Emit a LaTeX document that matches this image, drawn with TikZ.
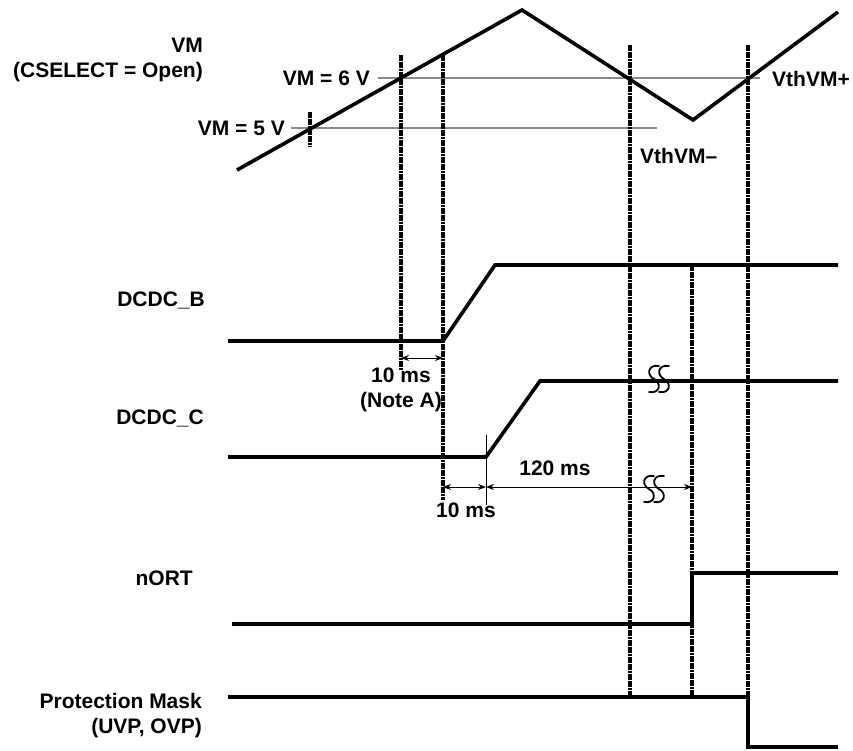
\documentclass[tikz,border=0pt]{standalone}
\usepackage{fontspec}
\setmainfont{Liberation Sans}
\usetikzlibrary{arrows.meta}

\definecolor{lvlgray}{HTML}{8A8A8A}

\begin{document}
\begin{tikzpicture}[x=1pt,y=-1pt,
  sig/.style={line width=3.6pt,line join=miter},
  lvl/.style={line width=1.4pt,lvlgray},
  evt/.style={line width=3.2pt,dash pattern=on 2.8pt off 0.6pt},
  dim/.style={line width=0.9pt,{Stealth[length=8pt,width=6pt]}-{Stealth[length=8pt,width=6pt]}},
  brk/.style={line width=1.8pt,line cap=round},
  lab/.style={font=\fontsize{21}{25}\selectfont\bfseries,inner sep=0pt}]
\useasboundingbox (0,0) rectangle (853,750);

% signal names
\node[lab,anchor=east,align=right] (vmname) at (203,60) {VM\\(CSELECT = Open)};
\node[lab,anchor=east] (bname) at (205,300) {DCDC\_B};
\node[lab,anchor=east] (cname) at (204,418) {DCDC\_C};
\node[lab,anchor=east] (rname) at (193,578) {nORT};
\node[lab,anchor=east,align=right] (pname) at (202,716) {Protection Mask\\(UVP, OVP)};

% VM ramp and thresholds
\node[lab,anchor=east] (six) at (370,78) {VM = 6 V};
\node[lab,anchor=east] (five) at (285,128) {VM = 5 V};
\node[lab,anchor=west] (vthp) at (772,79) {VthVM+};
\node[lab,anchor=west] (vthm) at (640,156) {VthVM--};
\coordinate (sixend) at (760,78);
\coordinate (fivestart) at (291,128);
\coordinate (fiveend) at (657,128);
\draw[lvl] (six.east) ++(8,0) -- (sixend);
\draw[lvl] (fivestart) -- (fiveend);
\draw[sig] (237,170) -- (522,10) -- (693,120) -- (838,12);
\draw[evt] (310,112) -- (310,147);

% event lines
\coordinate (t1) at (401,55);
\coordinate (t2) at (443,55);
\coordinate (t4) at (630,45);
\coordinate (t5) at (692,265);
\coordinate (t6) at (748,45);
\draw[evt] (t1) -- (401,370);
\draw[evt] (t2) -- (443,500);
\draw[evt] (t4) -- (630,697);
\draw[evt] (t5) -- (692,697);
\draw[evt] (t6) -- (748,697);

% outputs
\draw[sig] (228,341) -- (443,341) -- (495,265) -- (838,265);
\draw[sig] (228,457) -- (486,457) -- (540,381) -- (838,381);
\draw[sig] (232,624) -- (692,624) -- (692,573) -- (838,573);
\draw[sig] (228,697) -- (748,697) -- (748,747) -- (838,747);
\draw[line width=0.9pt] (486,435) -- (486,505);

% delays
\coordinate (a1) at (401,358);
\coordinate (a2) at (443,358);
\coordinate (b1) at (443,487);
\coordinate (b2) at (486,487);
\coordinate (b3) at (692,487);
\draw[dim] (a1) -- (a2);
\draw[dim] (b1) -- (b2);
\draw[dim] (b2) -- (b3);
\node[lab,align=center] (noteA) at (401,390) {10 ms\\(Note A)};
\node[lab] (tenms) at (466,510) {10 ms};
\node[lab] (onetwenty) at (555,468) {120 ms};

% breaks
\foreach \cx/\cy in {654/379,664/379,649/489,659/489}
  \draw[brk] (\cx+5,\cy-13) .. controls (\cx-6,\cy-15) and (\cx-8,\cy-4) .. (\cx,\cy)
    .. controls (\cx+8,\cy+4) and (\cx+6,\cy+15) .. (\cx-5,\cy+13);
\end{tikzpicture}
\end{document}
